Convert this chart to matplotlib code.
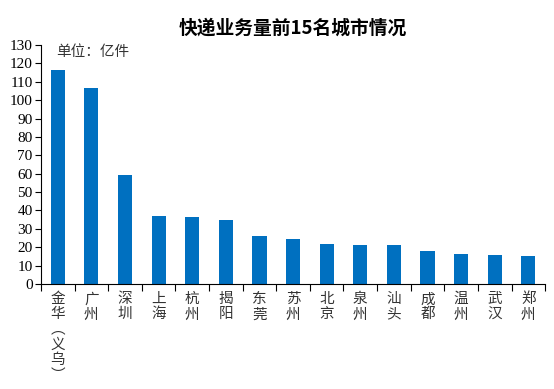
import matplotlib
matplotlib.use("Agg")
import matplotlib.pyplot as plt
import numpy as np

plt.rcParams["font.family"] = ["Liberation Serif", "Noto Sans CJK SC"]

cities = ["金华（义乌）", "广州", "深圳", "上海", "杭州", "揭阳", "东莞", "苏州",
          "北京", "泉州", "汕头", "成都", "温州", "武汉", "郑州"]
volumes = [116.4, 106.6, 59.3, 37.0, 36.4, 34.8, 26.1, 24.5,
           21.8, 21.2, 21.2, 17.9, 16.3, 15.8, 15.2]
yticks = list(range(0, 131, 10))


def vertical(name):
    name = name.replace("（", "︵").replace("）", "︶")
    return "\n".join(name)


fig = plt.figure(figsize=(5.54, 3.89), dpi=100)
ax = fig.add_axes([0.074, 0.270, 0.910, 0.614])

x = np.arange(len(cities))
ax.bar(x, volumes, width=0.42, color="#0070C0")

ax.set_xlim(-0.5, len(cities) - 0.5)
ax.set_ylim(0, 130)
ax.set_yticks(yticks)
ax.tick_params(axis="y", labelsize=11, length=4, pad=2, direction="out")

ax.set_xticks(np.arange(len(cities) + 1) - 0.5)
ax.set_xticklabels([])
ax.tick_params(axis="x", length=5, direction="out")
ax.set_xticks(x, minor=True)
ax.set_xticklabels([vertical(c) for c in cities], minor=True,
                   fontsize=10.5, va="top", linespacing=1.1,
                   family=["Noto Sans CJK SC"], color="#333333")
ax.tick_params(axis="x", which="minor", length=0, pad=6)

for s in ["top", "right"]:
    ax.spines[s].set_visible(False)

ax.text(0.03, 1.0, "单位：亿件", transform=ax.transAxes, fontsize=10.5,
        va="top", ha="left", family=["Noto Sans CJK SC"], color="#333333")
ax.set_title("快递业务量前15名城市情况", fontsize=13.5, fontweight="bold",
             pad=8, family=["Noto Sans CJK SC"])

fig.savefig("out.png", dpi=100)
